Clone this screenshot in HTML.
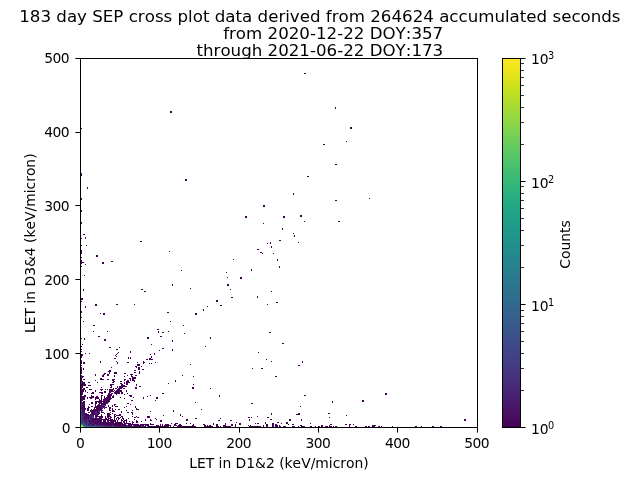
<!DOCTYPE html>
<html lang="en">
<head>
<meta charset="utf-8">
<title>SEP cross plot</title>
<style>
html,body{margin:0;padding:0;background:#fff;}
body{width:640px;height:480px;overflow:hidden;}
svg{display:block;will-change:transform;}
text{font-kerning:none;font-variant-ligatures:none;font-family:"DejaVu Sans","Liberation Sans",sans-serif;fill:#000;}
.t12{font-size:16.667px;}
.t10{font-size:13.889px;}
.t7{font-size:9.722px;}
.k{fill:#000;shape-rendering:crispEdges;}
.ka{fill:#000;}
.m{fill:#000;fill-opacity:0.8;shape-rendering:crispEdges;}
.px{shape-rendering:crispEdges;}
</style>
</head>
<body>
<svg width="640" height="480" viewBox="0 0 640 480">
<rect x="0" y="0" width="640" height="480" fill="#ffffff"/>
<defs>
<linearGradient id="vir" x1="0" y1="1" x2="0" y2="0">
<stop offset="0.0000" stop-color="#440154"/>
<stop offset="0.0312" stop-color="#470d60"/>
<stop offset="0.0625" stop-color="#48186a"/>
<stop offset="0.0938" stop-color="#482374"/>
<stop offset="0.1250" stop-color="#472d7b"/>
<stop offset="0.1562" stop-color="#453781"/>
<stop offset="0.1875" stop-color="#424086"/>
<stop offset="0.2188" stop-color="#3e4989"/>
<stop offset="0.2500" stop-color="#3b528b"/>
<stop offset="0.2812" stop-color="#375b8d"/>
<stop offset="0.3125" stop-color="#33638d"/>
<stop offset="0.3438" stop-color="#2f6b8e"/>
<stop offset="0.3750" stop-color="#2c728e"/>
<stop offset="0.4062" stop-color="#297a8e"/>
<stop offset="0.4375" stop-color="#26828e"/>
<stop offset="0.4688" stop-color="#23898e"/>
<stop offset="0.5000" stop-color="#21918c"/>
<stop offset="0.5312" stop-color="#1f988b"/>
<stop offset="0.5625" stop-color="#1fa088"/>
<stop offset="0.5938" stop-color="#22a785"/>
<stop offset="0.6250" stop-color="#28ae80"/>
<stop offset="0.6562" stop-color="#32b67a"/>
<stop offset="0.6875" stop-color="#3fbc73"/>
<stop offset="0.7188" stop-color="#4ec36b"/>
<stop offset="0.7500" stop-color="#5ec962"/>
<stop offset="0.7812" stop-color="#70cf57"/>
<stop offset="0.8125" stop-color="#84d44b"/>
<stop offset="0.8438" stop-color="#98d83e"/>
<stop offset="0.8750" stop-color="#addc30"/>
<stop offset="0.9062" stop-color="#c2df23"/>
<stop offset="0.9375" stop-color="#d8e219"/>
<stop offset="0.9688" stop-color="#ece51b"/>
<stop offset="1.0000" stop-color="#fde725"/>
</linearGradient>
</defs>
<g id="pts" class="px">
<path fill="#1fa088" d="M84 426h1v1h-1z"/>
<path fill="#21918c" d="M82 424h1v1h-1z"/>
<path fill="#228b8d" d="M85 426h1v1h-1z"/>
<path fill="#28ae80" d="M81 424h1v1h-1zM82 425h1v1h-1z"/>
<path fill="#2a778e" d="M87 426h2v1h-2z"/>
<path fill="#2c728e" d="M85 425h1v1h-1zM89 426h1v1h-1z"/>
<path fill="#2eb37c" d="M83 426h1v1h-1z"/>
<path fill="#31688e" d="M81 422h1v1h-1zM83 425h1v1h-1zM86 426h1v1h-1z"/>
<path fill="#33638d" d="M83 424h1v1h-1zM84 425h1v1h-1zM91 426h3v1h-3zM97 426h1v1h-1z"/>
<path fill="#365d8d" d="M81 423h1v1h-1zM94 425h1v1h-1z"/>
<path fill="#38588c" d="M81 420h1v1h-1zM90 426h1v1h-1zM94 426h1v1h-1z"/>
<path fill="#3b528b" d="M81 404h1v1h-1zM96 426h1v1h-1zM98 426h1v1h-1zM112 426h1v1h-1z"/>
<path fill="#3e4c8a" d="M81 401h1v1h-1zM95 412h1v1h-1zM81 414h1v1h-1zM81 416h1v1h-1zM92 416h1v1h-1zM92 417h1v1h-1zM87 419h1v1h-1zM88 422h1v1h-1zM83 423h1v1h-1zM101 425h1v1h-1zM112 425h1v1h-1z"/>
<path fill="#404688" d="M102 407h1v1h-1zM99 411h1v1h-1zM96 412h1v1h-1zM81 413h1v1h-1zM81 415h1v1h-1zM90 416h1v1h-1zM81 417h1v1h-1zM89 419h1v1h-1zM87 422h1v1h-1zM82 423h1v1h-1zM84 423h1v1h-1zM87 424h1v1h-1zM127 425h1v1h-1zM141 425h1v1h-1zM146 425h1v1h-1zM95 426h1v1h-1zM101 426h1v1h-1zM103 426h1v1h-1zM127 426h1v1h-1zM141 426h1v1h-1zM143 426h1v1h-1z"/>
<path fill="#424086" d="M81 360h1v1h-1zM81 382h1v1h-1zM114 393h1v1h-1zM103 405h2v1h-2zM104 407h1v1h-1zM81 410h1v1h-1zM81 411h1v1h-1zM93 417h1v1h-1zM81 419h1v1h-1zM83 421h1v1h-1zM83 422h1v1h-1zM85 424h1v1h-1zM90 425h1v1h-1zM99 426h2v1h-2zM147 426h1v1h-1z"/>
<path fill="#440154" d="M304 73h2v1h-2zM335 107h1v1h-1zM335 108h1v1h-1zM170 111h2v1h-2zM170 112h2v1h-2zM350 127h2v1h-2zM81 128h1v1h-1zM350 128h2v1h-2zM346 141h1v1h-1zM323 144h2v1h-2zM335 164h2v1h-2zM81 173h1v1h-1zM81 174h1v1h-1zM81 175h1v1h-1zM307 176h2v1h-2zM185 179h2v1h-2zM185 180h2v1h-2zM87 187h1v1h-1zM87 188h1v1h-1zM293 193h1v1h-1zM293 194h1v1h-1zM81 198h1v1h-1zM369 198h1v1h-1zM81 199h1v1h-1zM335 200h2v1h-2zM263 205h2v1h-2zM263 206h2v1h-2zM81 210h1v1h-1zM81 211h1v1h-1zM300 215h2v1h-2zM245 216h2v1h-2zM283 216h2v1h-2zM300 216h2v1h-2zM245 217h2v1h-2zM283 217h2v1h-2zM304 221h1v1h-1zM338 221h2v1h-2zM81 222h1v1h-1zM81 223h1v1h-1zM263 223h1v1h-1zM282 228h1v1h-1zM282 229h1v1h-1zM293 233h1v1h-1zM83 234h2v1h-2zM294 235h1v1h-1zM294 236h1v1h-1zM85 237h1v1h-1zM81 238h1v1h-1zM85 238h1v1h-1zM279 240h2v1h-2zM140 241h2v1h-2zM270 242h1v1h-1zM298 242h1v1h-1zM267 243h1v1h-1zM270 243h1v1h-1zM81 245h1v1h-1zM86 245h1v1h-1zM271 246h1v1h-1zM271 247h1v1h-1zM257 249h2v1h-2zM81 250h1v1h-1zM81 251h1v1h-1zM169 251h1v1h-1zM81 252h1v1h-1zM260 252h2v1h-2zM81 253h1v1h-1zM262 253h1v1h-1zM273 253h1v1h-1zM96 255h2v1h-2zM96 256h2v1h-2zM81 257h1v1h-1zM233 259h1v1h-1zM277 259h1v1h-1zM81 260h1v1h-1zM277 260h1v1h-1zM81 261h1v1h-1zM111 261h2v1h-2zM81 262h3v1h-3zM102 262h2v1h-2zM81 263h1v1h-1zM102 263h2v1h-2zM85 264h1v1h-1zM81 266h1v1h-1zM279 266h1v1h-1zM279 267h1v1h-1zM251 269h1v1h-1zM181 270h1v1h-1zM251 270h1v1h-1zM226 272h1v1h-1zM84 275h1v1h-1zM227 277h1v1h-1zM240 277h2v1h-2zM240 278h2v1h-2zM172 284h1v1h-1zM227 284h2v1h-2zM172 285h1v1h-1zM227 285h2v1h-2zM190 288h1v1h-1zM83 289h1v1h-1zM141 289h2v1h-2zM230 289h1v1h-1zM83 290h1v1h-1zM144 291h2v1h-2zM271 291h1v1h-1zM257 296h1v1h-1zM231 297h2v1h-2zM257 297h1v1h-1zM81 298h2v1h-2zM81 299h2v1h-2zM216 300h2v1h-2zM81 301h1v1h-1zM216 301h2v1h-2zM276 302h2v1h-2zM95 304h2v1h-2zM116 304h2v1h-2zM134 304h1v1h-1zM267 304h1v1h-1zM95 305h2v1h-2zM220 305h2v1h-2zM85 306h1v1h-1zM207 306h1v1h-1zM85 307h1v1h-1zM203 309h1v1h-1zM203 310h1v1h-1zM81 311h1v1h-1zM81 312h1v1h-1zM167 312h2v1h-2zM100 313h1v1h-1zM103 313h2v1h-2zM195 313h2v1h-2zM103 314h2v1h-2zM195 314h2v1h-2zM81 317h1v1h-1zM83 321h1v1h-1zM170 321h1v1h-1zM93 325h2v1h-2zM183 325h1v1h-1zM157 329h2v1h-2zM93 331h1v1h-1zM107 331h1v1h-1zM158 331h1v1h-1zM168 331h1v1h-1zM158 332h1v1h-1zM162 332h2v1h-2zM269 332h2v1h-2zM184 333h1v1h-1zM98 336h2v1h-2zM160 336h2v1h-2zM147 337h2v1h-2zM210 337h1v1h-1zM81 338h1v1h-1zM84 338h1v1h-1zM147 338h2v1h-2zM210 338h1v1h-1zM84 339h1v1h-1zM104 339h2v1h-2zM104 340h2v1h-2zM172 340h1v1h-1zM172 341h1v1h-1zM282 343h2v1h-2zM82 344h1v1h-1zM151 344h1v1h-1zM81 346h1v1h-1zM205 346h1v1h-1zM109 347h2v1h-2zM119 347h1v1h-1zM162 348h2v1h-2zM81 349h1v1h-1zM116 349h2v1h-2zM172 349h1v1h-1zM159 350h1v1h-1zM172 350h1v1h-1zM81 351h1v1h-1zM130 351h1v1h-1zM118 352h1v1h-1zM130 352h1v1h-1zM258 352h1v1h-1zM85 353h1v1h-1zM89 353h1v1h-1zM117 353h1v1h-1zM154 353h1v1h-1zM81 354h2v1h-2zM116 354h1v1h-1zM150 354h1v1h-1zM154 354h1v1h-1zM81 355h2v1h-2zM115 355h1v1h-1zM81 356h1v1h-1zM116 356h1v1h-1zM151 356h1v1h-1zM81 357h1v1h-1zM128 357h1v1h-1zM130 357h1v1h-1zM151 357h1v1h-1zM114 358h2v1h-2zM128 358h1v1h-1zM130 358h1v1h-1zM149 358h2v1h-2zM146 359h2v1h-2zM149 359h4v1h-4zM266 359h1v1h-1zM81 361h1v1h-1zM100 361h1v1h-1zM116 361h1v1h-1zM143 361h1v1h-1zM271 361h1v1h-1zM302 361h1v1h-1zM81 362h1v1h-1zM83 362h2v1h-2zM100 362h1v1h-1zM117 362h1v1h-1zM127 362h2v1h-2zM137 362h1v1h-1zM143 362h2v1h-2zM155 362h1v1h-1zM302 362h1v1h-1zM81 363h1v1h-1zM83 363h2v1h-2zM117 363h1v1h-1zM143 363h1v1h-1zM149 363h1v1h-1zM151 363h1v1h-1zM137 364h3v1h-3zM190 364h1v1h-1zM81 365h1v1h-1zM137 365h3v1h-3zM298 365h2v1h-2zM135 366h2v1h-2zM141 366h1v1h-1zM81 367h1v1h-1zM111 367h1v1h-1zM136 367h1v1h-1zM138 367h2v1h-2zM81 368h1v1h-1zM83 368h1v1h-1zM138 368h2v1h-2zM252 368h1v1h-1zM261 368h2v1h-2zM81 369h1v1h-1zM83 369h1v1h-1zM138 369h2v1h-2zM142 369h2v1h-2zM81 370h1v1h-1zM109 370h2v1h-2zM134 370h2v1h-2zM81 371h1v1h-1zM108 371h3v1h-3zM139 371h1v1h-1zM81 372h1v1h-1zM109 372h1v1h-1zM114 372h3v1h-3zM134 372h2v1h-2zM139 372h1v1h-1zM81 373h1v1h-1zM104 373h2v1h-2zM109 373h1v1h-1zM114 373h3v1h-3zM124 373h2v1h-2zM139 373h1v1h-1zM95 374h1v1h-1zM103 374h2v1h-2zM107 374h2v1h-2zM130 374h3v1h-3zM81 375h1v1h-1zM95 375h1v1h-1zM102 375h2v1h-2zM107 375h2v1h-2zM114 375h1v1h-1zM127 375h1v1h-1zM131 375h1v1h-1zM135 375h1v1h-1zM182 375h1v1h-1zM82 376h2v1h-2zM102 376h2v1h-2zM114 376h1v1h-1zM124 376h1v1h-1zM131 376h2v1h-2zM193 376h1v1h-1zM275 376h2v1h-2zM81 377h2v1h-2zM132 377h4v1h-4zM100 378h2v1h-2zM129 378h2v1h-2zM132 378h4v1h-4zM81 379h1v1h-1zM83 379h2v1h-2zM100 379h4v1h-4zM107 379h2v1h-2zM112 379h3v1h-3zM124 379h2v1h-2zM130 379h1v1h-1zM132 379h2v1h-2zM95 380h1v1h-1zM112 380h2v1h-2zM124 380h1v1h-1zM127 380h2v1h-2zM132 380h3v1h-3zM175 380h1v1h-1zM81 381h2v1h-2zM113 381h2v1h-2zM120 381h2v1h-2zM126 381h3v1h-3zM134 381h1v1h-1zM175 381h1v1h-1zM82 382h3v1h-3zM88 382h2v1h-2zM97 382h1v1h-1zM112 382h2v1h-2zM124 382h1v1h-1zM126 382h4v1h-4zM82 383h3v1h-3zM120 383h2v1h-2zM124 383h1v1h-1zM126 383h2v1h-2zM168 383h1v1h-1zM82 384h4v1h-4zM110 384h4v1h-4zM121 384h2v1h-2zM126 384h2v1h-2zM136 384h1v1h-1zM193 384h1v1h-1zM82 385h4v1h-4zM88 385h3v1h-3zM110 385h2v1h-2zM121 385h4v1h-4zM136 385h1v1h-1zM82 386h1v1h-1zM111 386h1v1h-1zM117 386h1v1h-1zM119 386h8v1h-8zM139 386h2v1h-2zM82 387h1v1h-1zM86 387h2v1h-2zM101 387h1v1h-1zM110 387h2v1h-2zM117 387h1v1h-1zM119 387h4v1h-4zM135 387h2v1h-2zM192 387h2v1h-2zM81 388h1v1h-1zM83 388h2v1h-2zM113 388h1v1h-1zM115 388h2v1h-2zM118 388h4v1h-4zM123 388h2v1h-2zM135 388h2v1h-2zM192 388h2v1h-2zM210 388h1v1h-1zM82 389h3v1h-3zM89 389h3v1h-3zM100 389h3v1h-3zM105 389h1v1h-1zM107 389h1v1h-1zM109 389h5v1h-5zM117 389h3v1h-3zM81 390h3v1h-3zM85 390h1v1h-1zM95 390h1v1h-1zM101 390h1v1h-1zM109 390h4v1h-4zM114 390h1v1h-1zM116 390h3v1h-3zM121 390h1v1h-1zM126 390h1v1h-1zM81 391h1v1h-1zM83 391h1v1h-1zM85 391h1v1h-1zM95 391h1v1h-1zM104 391h2v1h-2zM109 391h5v1h-5zM115 391h3v1h-3zM120 391h2v1h-2zM126 391h1v1h-1zM82 392h1v1h-1zM87 392h1v1h-1zM92 392h2v1h-2zM99 392h4v1h-4zM104 392h2v1h-2zM109 392h2v1h-2zM114 392h4v1h-4zM119 392h1v1h-1zM121 392h2v1h-2zM82 393h1v1h-1zM91 393h3v1h-3zM101 393h2v1h-2zM108 393h2v1h-2zM111 393h2v1h-2zM115 393h1v1h-1zM119 393h1v1h-1zM121 393h2v1h-2zM127 393h1v1h-1zM162 393h2v1h-2zM385 393h2v1h-2zM108 394h4v1h-4zM124 394h1v1h-1zM385 394h2v1h-2zM84 395h2v1h-2zM91 395h1v1h-1zM101 395h2v1h-2zM107 395h5v1h-5zM113 395h1v1h-1zM129 395h3v1h-3zM150 395h1v1h-1zM219 395h1v1h-1zM304 395h2v1h-2zM83 396h3v1h-3zM91 396h3v1h-3zM96 396h2v1h-2zM101 396h1v1h-1zM104 396h1v1h-1zM107 396h4v1h-4zM112 396h2v1h-2zM130 396h2v1h-2zM147 396h1v1h-1zM219 396h1v1h-1zM83 397h2v1h-2zM87 397h1v1h-1zM89 397h5v1h-5zM95 397h4v1h-4zM101 397h1v1h-1zM104 397h1v1h-1zM106 397h5v1h-5zM112 397h2v1h-2zM120 397h1v1h-1zM133 397h1v1h-1zM143 397h1v1h-1zM156 397h2v1h-2zM83 398h2v1h-2zM87 398h1v1h-1zM90 398h2v1h-2zM95 398h4v1h-4zM101 398h1v1h-1zM104 398h6v1h-6zM124 398h1v1h-1zM143 398h1v1h-1zM156 398h2v1h-2zM83 399h2v1h-2zM95 399h1v1h-1zM99 399h1v1h-1zM101 399h1v1h-1zM103 399h7v1h-7zM82 400h1v1h-1zM99 400h3v1h-3zM103 400h5v1h-5zM131 400h2v1h-2zM155 400h1v1h-1zM362 400h2v1h-2zM84 401h1v1h-1zM95 401h12v1h-12zM332 401h1v1h-1zM362 401h2v1h-2zM84 402h1v1h-1zM91 402h2v1h-2zM95 402h2v1h-2zM98 402h4v1h-4zM103 402h2v1h-2zM195 402h1v1h-1zM332 402h1v1h-1zM91 403h2v1h-2zM95 403h2v1h-2zM99 403h6v1h-6zM127 403h2v1h-2zM251 403h2v1h-2zM84 404h1v1h-1zM89 404h1v1h-1zM95 404h1v1h-1zM98 404h2v1h-2zM101 404h4v1h-4zM114 404h2v1h-2zM130 404h1v1h-1zM95 405h1v1h-1zM97 405h6v1h-6zM108 405h1v1h-1zM112 405h1v1h-1zM114 405h1v1h-1zM84 406h1v1h-1zM92 406h1v1h-1zM95 406h6v1h-6zM108 406h1v1h-1zM112 406h1v1h-1zM115 406h3v1h-3zM126 406h1v1h-1zM135 406h1v1h-1zM300 406h1v1h-1zM84 407h1v1h-1zM88 407h1v1h-1zM94 407h6v1h-6zM103 407h1v1h-1zM105 407h2v1h-2zM109 407h2v1h-2zM124 407h1v1h-1zM135 407h1v1h-1zM83 408h1v1h-1zM85 408h1v1h-1zM87 408h1v1h-1zM94 408h1v1h-1zM96 408h4v1h-4zM104 408h1v1h-1zM109 408h2v1h-2zM112 408h1v1h-1zM136 408h1v1h-1zM84 409h2v1h-2zM87 409h1v1h-1zM93 409h5v1h-5zM100 409h2v1h-2zM109 409h1v1h-1zM112 409h1v1h-1zM115 409h1v1h-1zM118 409h2v1h-2zM136 409h3v1h-3zM201 409h1v1h-1zM83 410h1v1h-1zM90 410h1v1h-1zM92 410h1v1h-1zM96 410h2v1h-2zM101 410h2v1h-2zM109 410h2v1h-2zM112 410h2v1h-2zM126 410h1v1h-1zM132 410h1v1h-1zM173 410h1v1h-1zM90 411h1v1h-1zM94 411h1v1h-1zM101 411h1v1h-1zM112 411h3v1h-3zM121 411h1v1h-1zM150 411h1v1h-1zM173 411h1v1h-1zM93 412h2v1h-2zM98 412h1v1h-1zM101 412h3v1h-3zM110 412h1v1h-1zM121 412h1v1h-1zM127 412h2v1h-2zM131 412h2v1h-2zM97 413h1v1h-1zM99 413h1v1h-1zM104 413h1v1h-1zM107 413h3v1h-3zM112 413h1v1h-1zM132 413h1v1h-1zM271 413h1v1h-1zM298 413h2v1h-2zM328 413h2v1h-2zM85 414h3v1h-3zM90 414h1v1h-1zM101 414h1v1h-1zM107 414h4v1h-4zM114 414h2v1h-2zM119 414h2v1h-2zM132 414h1v1h-1zM180 414h1v1h-1zM271 414h1v1h-1zM296 414h4v1h-4zM87 415h2v1h-2zM97 415h1v1h-1zM101 415h1v1h-1zM107 415h3v1h-3zM114 415h1v1h-1zM116 415h5v1h-5zM163 415h1v1h-1zM180 415h1v1h-1zM346 415h1v1h-1zM98 416h1v1h-1zM100 416h3v1h-3zM105 416h1v1h-1zM107 416h4v1h-4zM114 416h2v1h-2zM121 416h2v1h-2zM132 416h1v1h-1zM136 416h1v1h-1zM147 416h3v1h-3zM182 416h1v1h-1zM257 416h1v1h-1zM96 417h1v1h-1zM99 417h4v1h-4zM105 417h1v1h-1zM107 417h2v1h-2zM110 417h2v1h-2zM114 417h1v1h-1zM117 417h2v1h-2zM120 417h1v1h-1zM122 417h1v1h-1zM134 417h2v1h-2zM137 417h2v1h-2zM147 417h3v1h-3zM248 417h2v1h-2zM251 417h1v1h-1zM267 417h2v1h-2zM329 417h1v1h-1zM93 418h1v1h-1zM95 418h1v1h-1zM98 418h2v1h-2zM101 418h1v1h-1zM105 418h2v1h-2zM108 418h3v1h-3zM114 418h1v1h-1zM116 418h1v1h-1zM118 418h2v1h-2zM122 418h2v1h-2zM128 418h1v1h-1zM155 418h1v1h-1zM195 418h2v1h-2zM220 418h1v1h-1zM94 419h2v1h-2zM98 419h1v1h-1zM100 419h1v1h-1zM105 419h4v1h-4zM110 419h3v1h-3zM114 419h1v1h-1zM116 419h1v1h-1zM118 419h1v1h-1zM121 419h1v1h-1zM123 419h1v1h-1zM126 419h1v1h-1zM134 419h1v1h-1zM145 419h1v1h-1zM150 419h1v1h-1zM156 419h1v1h-1zM186 419h2v1h-2zM249 419h1v1h-1zM270 419h2v1h-2zM289 419h2v1h-2zM301 419h1v1h-1zM464 419h2v1h-2zM92 420h1v1h-1zM95 420h1v1h-1zM97 420h5v1h-5zM103 420h3v1h-3zM107 420h9v1h-9zM117 420h1v1h-1zM121 420h2v1h-2zM124 420h3v1h-3zM136 420h1v1h-1zM145 420h1v1h-1zM150 420h2v1h-2zM160 420h2v1h-2zM186 420h2v1h-2zM218 420h2v1h-2zM230 420h2v1h-2zM249 420h1v1h-1zM289 420h2v1h-2zM301 420h1v1h-1zM464 420h2v1h-2zM93 421h1v1h-1zM97 421h3v1h-3zM103 421h1v1h-1zM105 421h1v1h-1zM108 421h1v1h-1zM110 421h6v1h-6zM117 421h1v1h-1zM121 421h1v1h-1zM123 421h2v1h-2zM126 421h1v1h-1zM129 421h1v1h-1zM132 421h1v1h-1zM136 421h2v1h-2zM141 421h1v1h-1zM160 421h2v1h-2zM93 422h1v1h-1zM95 422h1v1h-1zM97 422h2v1h-2zM100 422h1v1h-1zM105 422h4v1h-4zM110 422h4v1h-4zM115 422h7v1h-7zM123 422h2v1h-2zM126 422h1v1h-1zM132 422h2v1h-2zM136 422h2v1h-2zM236 422h1v1h-1zM265 422h1v1h-1zM277 422h2v1h-2zM286 422h2v1h-2zM95 423h3v1h-3zM102 423h2v1h-2zM106 423h1v1h-1zM108 423h1v1h-1zM111 423h1v1h-1zM113 423h10v1h-10zM124 423h7v1h-7zM132 423h1v1h-1zM150 423h1v1h-1zM171 423h1v1h-1zM175 423h3v1h-3zM186 423h1v1h-1zM190 423h1v1h-1zM213 423h1v1h-1zM225 423h1v1h-1zM239 423h2v1h-2zM255 423h1v1h-1zM257 423h2v1h-2zM265 423h1v1h-1zM272 423h2v1h-2zM281 423h1v1h-1zM286 423h2v1h-2zM310 423h1v1h-1zM103 424h1v1h-1zM105 424h2v1h-2zM108 424h1v1h-1zM110 424h1v1h-1zM112 424h1v1h-1zM114 424h3v1h-3zM118 424h8v1h-8zM128 424h11v1h-11zM140 424h9v1h-9zM150 424h4v1h-4zM160 424h1v1h-1zM162 424h1v1h-1zM165 424h4v1h-4zM174 424h2v1h-2zM179 424h2v1h-2zM193 424h1v1h-1zM203 424h2v1h-2zM213 424h1v1h-1zM216 424h2v1h-2zM225 424h1v1h-1zM231 424h2v1h-2zM235 424h1v1h-1zM239 424h2v1h-2zM266 424h2v1h-2zM272 424h2v1h-2zM275 424h2v1h-2zM288 424h1v1h-1zM292 424h2v1h-2zM330 424h2v1h-2zM345 424h2v1h-2zM349 424h2v1h-2zM353 424h1v1h-1zM113 425h2v1h-2zM118 425h2v1h-2zM122 425h4v1h-4zM128 425h4v1h-4zM134 425h7v1h-7zM142 425h2v1h-2zM145 425h1v1h-1zM147 425h2v1h-2zM156 425h3v1h-3zM160 425h1v1h-1zM162 425h1v1h-1zM164 425h7v1h-7zM174 425h3v1h-3zM178 425h4v1h-4zM192 425h2v1h-2zM204 425h2v1h-2zM207 425h1v1h-1zM209 425h2v1h-2zM216 425h2v1h-2zM223 425h3v1h-3zM231 425h2v1h-2zM235 425h1v1h-1zM248 425h1v1h-1zM250 425h1v1h-1zM263 425h1v1h-1zM266 425h2v1h-2zM272 425h2v1h-2zM275 425h3v1h-3zM279 425h1v1h-1zM300 425h2v1h-2zM321 425h2v1h-2zM329 425h1v1h-1zM349 425h1v1h-1zM372 425h4v1h-4zM135 426h1v1h-1zM138 426h3v1h-3zM142 426h1v1h-1zM144 426h2v1h-2zM148 426h21v1h-21zM170 426h1v1h-1zM173 426h1v1h-1zM177 426h19v1h-19zM204 426h9v1h-9zM216 426h3v1h-3zM220 426h1v1h-1zM223 426h8v1h-8zM235 426h1v1h-1zM249 426h12v1h-12zM263 426h1v1h-1zM266 426h2v1h-2zM272 426h2v1h-2zM275 426h3v1h-3zM279 426h2v1h-2zM283 426h3v1h-3zM292 426h3v1h-3zM298 426h1v1h-1zM301 426h4v1h-4zM310 426h2v1h-2zM315 426h1v1h-1zM318 426h2v1h-2zM321 426h2v1h-2zM325 426h3v1h-3zM329 426h3v1h-3zM333 426h1v1h-1zM335 426h2v1h-2zM349 426h1v1h-1zM355 426h2v1h-2zM365 426h2v1h-2zM368 426h2v1h-2zM372 426h3v1h-3zM378 426h2v1h-2zM381 426h1v1h-1zM392 426h1v1h-1zM415 426h2v1h-2zM421 426h1v1h-1zM432 426h2v1h-2zM440 426h2v1h-2z"/>
<path fill="#443983" d="M108 402h1v1h-1zM96 414h1v1h-1zM91 415h1v1h-1zM82 416h1v1h-1zM82 418h1v1h-1zM90 419h1v1h-1zM87 423h1v1h-1zM90 424h1v1h-1zM105 426h1v1h-1z"/>
<path fill="#46085c" d="M136 375h1v1h-1zM81 376h1v1h-1zM81 378h1v1h-1zM81 380h1v1h-1zM130 380h1v1h-1zM81 384h1v1h-1zM81 385h1v1h-1zM81 387h1v1h-1zM81 389h1v1h-1zM119 390h2v1h-2zM82 391h1v1h-1zM118 391h2v1h-2zM81 392h1v1h-1zM118 392h1v1h-1zM116 393h3v1h-3zM81 394h2v1h-2zM116 394h1v1h-1zM81 396h2v1h-2zM82 397h1v1h-1zM81 398h2v1h-2zM110 398h2v1h-2zM81 399h2v1h-2zM81 400h1v1h-1zM108 400h2v1h-2zM83 401h1v1h-1zM107 401h3v1h-3zM81 402h3v1h-3zM105 402h2v1h-2zM82 403h1v1h-1zM84 403h1v1h-1zM105 403h1v1h-1zM107 403h1v1h-1zM83 404h1v1h-1zM105 404h1v1h-1zM83 405h2v1h-2zM105 405h1v1h-1zM82 406h2v1h-2zM88 406h1v1h-1zM91 406h1v1h-1zM101 406h4v1h-4zM82 407h1v1h-1zM89 407h1v1h-1zM100 407h2v1h-2zM84 408h1v1h-1zM88 408h1v1h-1zM100 408h3v1h-3zM88 409h1v1h-1zM91 409h1v1h-1zM87 410h2v1h-2zM91 410h1v1h-1zM93 410h3v1h-3zM99 410h1v1h-1zM83 411h2v1h-2zM91 411h3v1h-3zM95 411h1v1h-1zM97 411h2v1h-2zM84 412h1v1h-1zM88 412h1v1h-1zM91 412h2v1h-2zM99 412h1v1h-1zM85 413h1v1h-1zM91 413h4v1h-4zM96 413h1v1h-1zM98 413h1v1h-1zM82 414h1v1h-1zM84 414h1v1h-1zM91 414h3v1h-3zM97 414h2v1h-2zM86 415h1v1h-1zM92 415h1v1h-1zM96 415h1v1h-1zM84 416h3v1h-3zM89 416h1v1h-1zM93 416h1v1h-1zM95 416h3v1h-3zM99 416h1v1h-1zM83 417h1v1h-1zM85 417h1v1h-1zM87 417h2v1h-2zM90 417h2v1h-2zM85 418h1v1h-1zM87 418h2v1h-2zM92 418h1v1h-1zM94 418h1v1h-1zM96 418h2v1h-2zM100 418h1v1h-1zM85 419h2v1h-2zM88 419h1v1h-1zM91 419h3v1h-3zM97 419h1v1h-1zM99 419h1v1h-1zM101 419h4v1h-4zM84 420h1v1h-1zM90 420h1v1h-1zM93 420h1v1h-1zM89 421h2v1h-2zM92 421h1v1h-1zM96 421h1v1h-1zM101 421h1v1h-1zM104 421h1v1h-1zM107 421h1v1h-1zM90 422h1v1h-1zM99 422h1v1h-1zM101 422h4v1h-4zM109 422h1v1h-1zM89 423h2v1h-2zM99 423h2v1h-2zM104 423h2v1h-2zM107 423h1v1h-1zM109 423h2v1h-2zM112 423h1v1h-1zM92 424h2v1h-2zM96 424h1v1h-1zM98 424h2v1h-2zM104 424h1v1h-1zM109 424h1v1h-1zM111 424h1v1h-1zM113 424h1v1h-1zM117 424h1v1h-1zM108 425h1v1h-1zM110 425h2v1h-2zM115 425h3v1h-3zM120 425h2v1h-2zM126 425h1v1h-1zM125 426h1v1h-1zM128 426h3v1h-3zM132 426h1v1h-1zM134 426h1v1h-1zM136 426h2v1h-2z"/>
<path fill="#46337f" d="M81 383h1v1h-1zM81 405h1v1h-1zM82 417h1v1h-1zM82 420h1v1h-1zM82 422h1v1h-1zM84 422h1v1h-1zM95 425h1v1h-1zM133 425h1v1h-1zM102 426h1v1h-1zM104 426h1v1h-1z"/>
<path fill="#471063" d="M81 386h1v1h-1zM81 393h1v1h-1zM81 395h1v1h-1zM81 397h1v1h-1zM110 399h1v1h-1zM107 402h1v1h-1zM83 403h1v1h-1zM106 403h1v1h-1zM82 404h1v1h-1zM81 406h1v1h-1zM81 407h1v1h-1zM83 407h1v1h-1zM81 408h2v1h-2zM83 409h1v1h-1zM98 409h2v1h-2zM82 410h1v1h-1zM84 410h1v1h-1zM100 410h1v1h-1zM96 411h1v1h-1zM83 412h1v1h-1zM89 412h1v1h-1zM97 412h1v1h-1zM86 413h1v1h-1zM95 413h1v1h-1zM88 414h1v1h-1zM94 414h2v1h-2zM89 415h1v1h-1zM93 415h1v1h-1zM95 415h1v1h-1zM88 416h1v1h-1zM91 416h1v1h-1zM95 417h1v1h-1zM83 418h1v1h-1zM86 418h1v1h-1zM96 419h1v1h-1zM86 420h1v1h-1zM89 420h1v1h-1zM91 420h1v1h-1zM94 420h1v1h-1zM96 420h1v1h-1zM87 421h2v1h-2zM94 421h2v1h-2zM100 421h1v1h-1zM86 422h1v1h-1zM91 422h1v1h-1zM96 422h1v1h-1zM93 423h2v1h-2zM98 423h1v1h-1zM101 423h1v1h-1zM88 424h1v1h-1zM101 424h2v1h-2zM107 424h1v1h-1zM92 425h2v1h-2zM105 425h1v1h-1zM107 425h1v1h-1zM109 425h1v1h-1zM118 426h2v1h-2zM121 426h1v1h-1zM123 426h2v1h-2zM126 426h1v1h-1z"/>
<path fill="#472d7b" d="M81 409h1v1h-1zM82 413h1v1h-1zM81 418h1v1h-1zM82 419h1v1h-1zM87 420h1v1h-1zM81 421h1v1h-1zM85 421h2v1h-2zM85 422h1v1h-1zM87 425h1v1h-1zM99 425h1v1h-1zM106 426h3v1h-3zM111 426h1v1h-1zM131 426h1v1h-1zM133 426h1v1h-1z"/>
<path fill="#48186a" d="M82 405h1v1h-1zM82 409h1v1h-1zM98 410h1v1h-1zM82 411h1v1h-1zM81 412h1v1h-1zM84 413h1v1h-1zM83 414h1v1h-1zM85 415h1v1h-1zM90 415h1v1h-1zM87 416h1v1h-1zM89 417h1v1h-1zM84 418h1v1h-1zM89 418h2v1h-2zM88 420h1v1h-1zM82 421h1v1h-1zM84 421h1v1h-1zM91 421h1v1h-1zM89 422h1v1h-1zM92 422h1v1h-1zM94 422h1v1h-1zM85 423h2v1h-2zM89 424h1v1h-1zM91 424h1v1h-1zM100 424h1v1h-1zM89 425h1v1h-1zM91 425h1v1h-1zM96 425h1v1h-1zM98 425h1v1h-1zM100 425h1v1h-1zM103 425h2v1h-2zM115 426h1v1h-1zM117 426h1v1h-1zM120 426h1v1h-1zM122 426h1v1h-1z"/>
<path fill="#481f70" d="M83 413h1v1h-1zM83 415h2v1h-2zM83 416h1v1h-1zM86 417h1v1h-1zM91 418h1v1h-1zM84 419h1v1h-1zM83 420h1v1h-1zM91 423h2v1h-2zM84 424h1v1h-1zM94 424h1v1h-1zM88 425h1v1h-1zM97 425h1v1h-1zM102 425h1v1h-1zM106 425h1v1h-1zM113 426h1v1h-1zM116 426h1v1h-1z"/>
<path fill="#482576" d="M81 403h1v1h-1zM82 412h1v1h-1zM82 415h1v1h-1zM84 417h1v1h-1zM83 419h1v1h-1zM85 420h1v1h-1zM88 423h1v1h-1zM86 424h1v1h-1zM95 424h1v1h-1zM97 424h1v1h-1zM86 425h1v1h-1zM109 426h2v1h-2zM114 426h1v1h-1z"/>
<path fill="#84d44b" d="M81 425h1v1h-1zM82 426h1v1h-1z"/>
<path fill="#f1e51d" d="M81 426h1v1h-1z"/>
</g>
<g id="axes">
<rect class="k" x="80" y="58" width="1" height="370"/>
<rect class="k" x="477" y="58" width="1" height="370"/>
<rect class="k" x="80" y="58" width="398" height="1"/>
<rect class="k" x="80" y="427" width="398" height="1"/>
<rect class="ka" x="80" y="428" width="1" height="4.6"/>
<text class="t10" text-anchor="middle" x="80.40" y="448.48">0</text>
<rect class="ka" x="159" y="428" width="1" height="4.6"/>
<text class="t10" text-anchor="middle" x="159.51" y="448.48" textLength="25.4" lengthAdjust="spacing">100</text>
<rect class="ka" x="239" y="428" width="1" height="4.6"/>
<text class="t10" text-anchor="middle" x="238.87" y="448.48" textLength="25.4" lengthAdjust="spacing">200</text>
<rect class="ka" x="318" y="428" width="1" height="4.6"/>
<text class="t10" text-anchor="middle" x="318.23" y="448.48" textLength="25.4" lengthAdjust="spacing">300</text>
<rect class="ka" x="397" y="428" width="1" height="4.6"/>
<text class="t10" text-anchor="middle" x="397.59" y="448.48" textLength="25.4" lengthAdjust="spacing">400</text>
<rect class="ka" x="477" y="428" width="1" height="4.6"/>
<text class="t10" text-anchor="middle" x="476.95" y="448.48" textLength="25.4" lengthAdjust="spacing">500</text>
<rect class="ka" x="75.4" y="427" width="4.6" height="1"/>
<text class="t10" text-anchor="end" x="70.68" y="433.48">0</text>
<rect class="ka" x="75.4" y="353" width="4.6" height="1"/>
<text class="t10" text-anchor="end" x="69.70" y="358.56" textLength="25.5" lengthAdjust="spacing">100</text>
<rect class="ka" x="75.4" y="279" width="4.6" height="1"/>
<text class="t10" text-anchor="end" x="69.70" y="284.64" textLength="25.5" lengthAdjust="spacing">200</text>
<rect class="ka" x="75.4" y="205" width="4.6" height="1"/>
<text class="t10" text-anchor="end" x="69.70" y="210.72" textLength="25.5" lengthAdjust="spacing">300</text>
<rect class="ka" x="75.4" y="132" width="4.6" height="1"/>
<text class="t10" text-anchor="end" x="69.70" y="136.80" textLength="25.5" lengthAdjust="spacing">400</text>
<rect class="ka" x="75.4" y="58" width="4.6" height="1"/>
<text class="t10" text-anchor="end" x="69.70" y="62.88" textLength="25.5" lengthAdjust="spacing">500</text>
<text class="t10" text-anchor="middle" x="278.95" y="468.47">LET in D1&amp;2 (keV/micron)</text>
<text class="t10" text-anchor="middle" transform="translate(35.32 243.20) rotate(-90)">LET in D3&amp;4 (keV/micron)</text>
</g>
<g id="title">
<text class="t12" text-anchor="middle" x="319.9" y="22.4">183 day SEP cross plot data derived from 264624 accumulated seconds</text>
<text class="t12" text-anchor="end" x="443.2" y="39.3">from 2020-12-22 DOY:357</text>
<text class="t12" text-anchor="end" x="443.2" y="56.0">through 2021-06-22 DOY:173</text>
</g>
<g id="colorbar">
<rect class="px" x="502" y="58" width="19" height="370" fill="url(#vir)"/>
<rect class="k" x="502" y="58" width="1" height="370"/>
<rect class="k" x="520" y="58" width="1" height="370"/>
<rect class="k" x="502" y="58" width="19" height="1"/>
<rect class="k" x="502" y="427" width="19" height="1"/>
<rect class="ka" x="521" y="427" width="4.5" height="1"/>
<text><tspan class="t10" x="530.95" y="434.22">1</tspan><tspan class="t10" x="539.79" y="434.22">0</tspan><tspan class="t7" x="548.01" y="428.90">0</tspan></text>
<rect class="m" x="521" y="390" width="3" height="1"/>
<rect class="m" x="521" y="368" width="3" height="1"/>
<rect class="m" x="521" y="353" width="3" height="1"/>
<rect class="m" x="521" y="341" width="3" height="1"/>
<rect class="m" x="521" y="331" width="3" height="1"/>
<rect class="m" x="521" y="323" width="3" height="1"/>
<rect class="m" x="521" y="316" width="3" height="1"/>
<rect class="m" x="521" y="310" width="3" height="1"/>
<rect class="ka" x="521" y="304" width="4.5" height="1"/>
<text><tspan class="t10" x="530.95" y="311.02">1</tspan><tspan class="t10" x="539.79" y="311.02">0</tspan><tspan class="t7" x="548.01" y="305.70">1</tspan></text>
<rect class="m" x="521" y="267" width="3" height="1"/>
<rect class="m" x="521" y="245" width="3" height="1"/>
<rect class="m" x="521" y="230" width="3" height="1"/>
<rect class="m" x="521" y="218" width="3" height="1"/>
<rect class="m" x="521" y="208" width="3" height="1"/>
<rect class="m" x="521" y="200" width="3" height="1"/>
<rect class="m" x="521" y="193" width="3" height="1"/>
<rect class="m" x="521" y="186" width="3" height="1"/>
<rect class="ka" x="521" y="181" width="4.5" height="1"/>
<text><tspan class="t10" x="530.95" y="187.82">1</tspan><tspan class="t10" x="539.79" y="187.82">0</tspan><tspan class="t7" x="548.01" y="182.50">2</tspan></text>
<rect class="m" x="521" y="144" width="3" height="1"/>
<rect class="m" x="521" y="122" width="3" height="1"/>
<rect class="m" x="521" y="107" width="3" height="1"/>
<rect class="m" x="521" y="95" width="3" height="1"/>
<rect class="m" x="521" y="85" width="3" height="1"/>
<rect class="m" x="521" y="77" width="3" height="1"/>
<rect class="m" x="521" y="70" width="3" height="1"/>
<rect class="m" x="521" y="63" width="3" height="1"/>
<rect class="ka" x="521" y="58" width="4.5" height="1"/>
<text><tspan class="t10" x="530.95" y="63.72">1</tspan><tspan class="t10" x="539.79" y="63.72">0</tspan><tspan class="t7" x="548.01" y="59.30">3</tspan></text>
<text class="t10" text-anchor="middle" transform="translate(570.40 244.50) rotate(-90)">Counts</text>
</g>
</svg>
</body>
</html>
